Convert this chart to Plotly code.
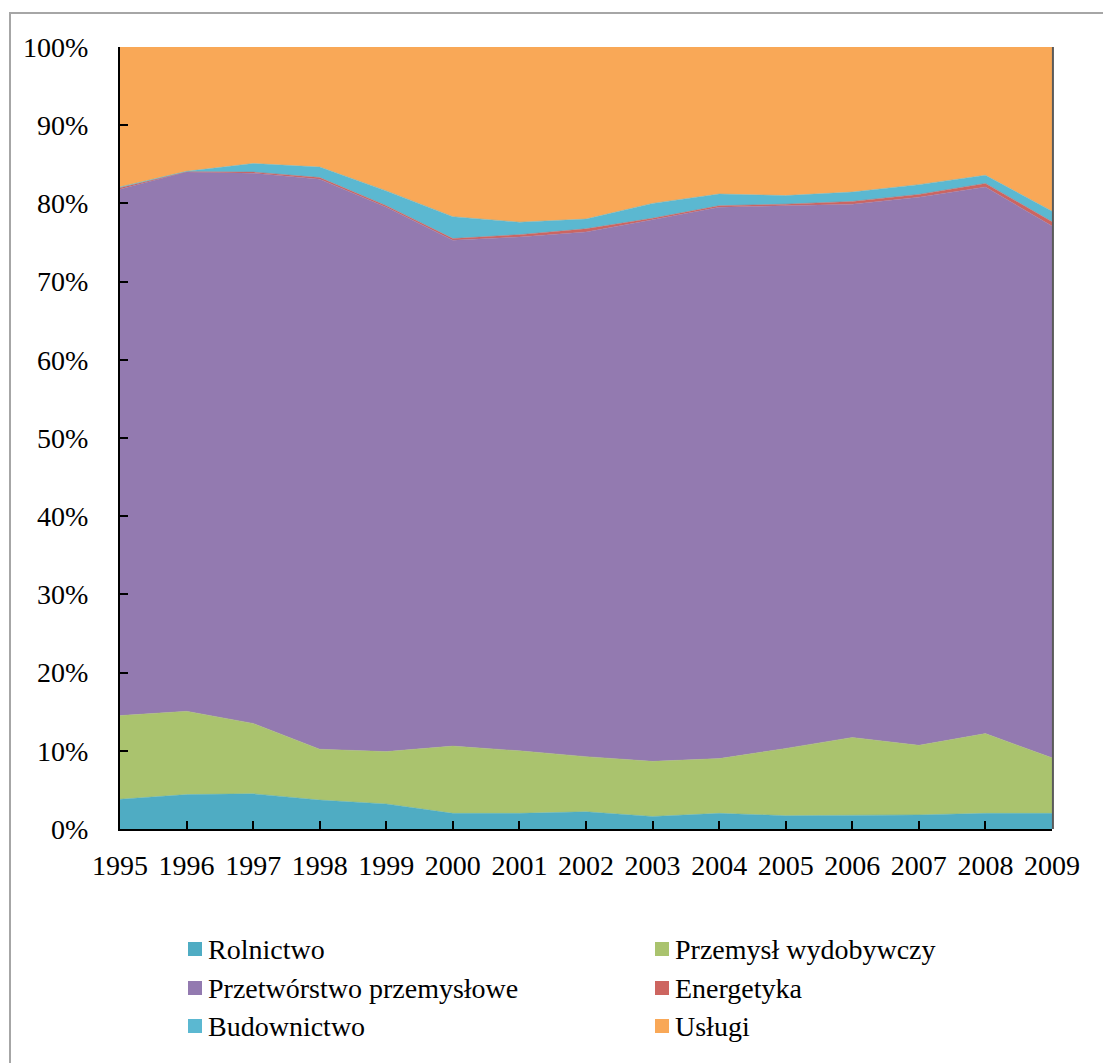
import plotly.graph_objects as go

years = [1995, 1996, 1997, 1998, 1999, 2000, 2001, 2002, 2003, 2004, 2005, 2006, 2007, 2008, 2009]

rolnictwo     = [3.8, 4.4, 4.5, 3.7, 3.2, 2.0, 2.0, 2.2, 1.6, 2.0, 1.7, 1.75, 1.8, 2.0, 2.0]
wydobywczy    = [10.7, 10.65, 9.0, 6.5, 6.7, 8.6, 8.0, 7.05, 7.05, 7.0, 8.6, 9.95, 8.9, 10.2, 7.1]
przetworstwo  = [67.3, 68.95, 70.35, 72.9, 69.6, 64.7, 65.7, 67.1, 69.25, 70.5, 69.4, 68.2, 70.1, 69.9, 68.0]
energetyka    = [0.2, 0.05, 0.15, 0.2, 0.2, 0.2, 0.3, 0.4, 0.2, 0.2, 0.2, 0.35, 0.35, 0.45, 0.55]
budownictwo   = [0.1, 0.05, 1.1, 1.35, 1.9, 2.8, 1.6, 1.25, 1.9, 1.5, 1.1, 1.2, 1.25, 1.05, 1.35]
uslugi        = [17.9, 15.9, 14.9, 15.35, 18.4, 21.7, 22.4, 22.0, 20.0, 18.8, 19.0, 18.55, 17.6, 16.4, 21.0]

series_names = ["Rolnictwo", "Przemysł wydobywczy", "Przetwórstwo przemysłowe",
                "Energetyka", "Budownictwo", "Usługi"]
series_values = [rolnictwo, wydobywczy, przetworstwo, energetyka, budownictwo, uslugi]
colors = ["#4FACC3", "#AAC36E", "#937AB0", "#CD6560", "#5BB8D1", "#F9A857"]

y_ticks = list(range(0, 101, 10))
y_tick_labels = [f"{v}%" for v in y_ticks]

FONT = "Liberation Serif"
FSIZE = 28

fig = go.Figure()
for name, vals, col in zip(series_names, series_values, colors):
    fig.add_trace(go.Scatter(
        x=years, y=vals, name=name, mode="lines",
        stackgroup="one", groupnorm="percent",
        line=dict(width=0.5, color=col), fillcolor=col,
        showlegend=False,
    ))

# plot-area geometry in pixels
L, R, T, B = 120, 1052, 47, 829
W, H = 1103, 1063
def px(x):
    return (x - L) / (R - L)
def py(y):
    return (B - y) / (B - T)

shapes = []
# outer chart border
shapes.append(dict(type="rect", xref="paper", yref="paper",
                   x0=px(10), x1=px(1110), y0=py(1070), y1=py(13),
                   line=dict(color="#A6A6A6", width=2), fillcolor="rgba(0,0,0,0)",
                   layer="below"))
# right edge shadow
shapes.append(dict(type="line", xref="paper", yref="paper",
                   x0=1.001, x1=1.001, y0=0, y1=1,
                   line=dict(color="#5A5A5A", width=2), layer="above"))

annotations = []
legend_pos = [(188, 949), (655, 949), (188, 988), (655, 988), (188, 1026), (655, 1026)]
for (lx, ly), name, col in zip(legend_pos, series_names, colors):
    shapes.append(dict(type="rect", xref="paper", yref="paper",
                       x0=px(lx), x1=px(lx + 14), y0=py(ly + 7), y1=py(ly - 7),
                       fillcolor=col, line=dict(width=0)))
    annotations.append(dict(xref="paper", yref="paper", x=px(lx + 18), y=py(ly),
                            xanchor="left", yanchor="middle", showarrow=False,
                            text=name, font=dict(family=FONT, size=FSIZE, color="#000000")))

fig.update_layout(
    width=W, height=H,
    margin=dict(l=L, r=W - R, t=T, b=H - B),
    paper_bgcolor="white", plot_bgcolor="white",
    font=dict(family=FONT, size=FSIZE, color="#000000"),
    shapes=shapes, annotations=annotations,
    xaxis=dict(range=[1995, 2009], tickvals=years, ticktext=[str(y) for y in years],
               showgrid=False, zeroline=False, showline=True, linecolor="#000000", linewidth=2,
               ticks="inside", ticklen=8, tickwidth=2, tickcolor="#000000",
               tickfont=dict(family=FONT, size=FSIZE), ticklabelstandoff=10),
    yaxis=dict(range=[0, 100], tickvals=y_ticks, ticktext=y_tick_labels,
               showgrid=False, zeroline=False, showline=True, linecolor="#000000", linewidth=2,
               ticks="inside", ticklen=8, tickwidth=2, tickcolor="#000000",
               tickfont=dict(family=FONT, size=FSIZE), ticklabelstandoff=24),
)

fig.write_html("out.html")
